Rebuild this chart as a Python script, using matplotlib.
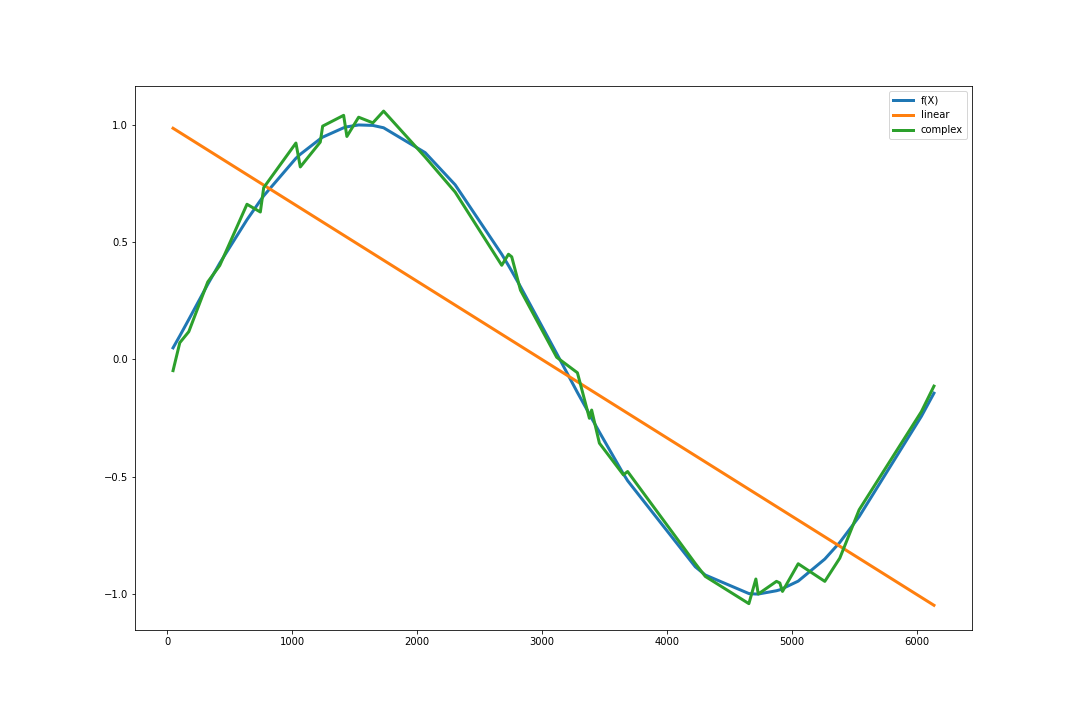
import numpy as np
import matplotlib
matplotlib.use('Agg')
import matplotlib.pyplot as plt

# sample positions (sorted X)
x_vals = [45, 99, 171, 323, 419, 637, 744, 771, 1029, 1064, 1224, 1243, 1411, 1437,
          1531, 1645, 1731, 2064, 2304, 2677, 2731, 2757, 2827, 3117, 3283, 3379,
          3397, 3459, 3651, 3685, 4227, 4307, 4656, 4712, 4731, 4877, 4904, 4925,
          5051, 5264, 5384, 5539, 6037, 6138]

# true function values
f_vals = [0.049, 0.10, 0.17, 0.32, 0.41, 0.595, 0.677, 0.697, 0.857, 0.874, 0.94,
          0.947, 0.987, 0.991, 0.999, 0.997, 0.987, 0.881, 0.744, 0.448, 0.40,
          0.376, 0.31, 0.025, -0.141, -0.233, -0.251, -0.31, -0.488, -0.517,
          -0.884, -0.919, -0.998, -1.0, -1.0, -0.986, -0.982, -0.977, -0.945,
          -0.851, -0.78, -0.67, -0.243, -0.144]

# complex model predictions
complex_vals = [-0.048, 0.071, 0.118, 0.33, 0.40, 0.661, 0.628, 0.732, 0.922, 0.82,
                0.926, 0.994, 1.04, 0.95, 1.032, 1.008, 1.058, 0.862, 0.713, 0.401,
                0.448, 0.437, 0.295, 0.009, -0.057, -0.251, -0.216, -0.357, -0.492,
                -0.478, -0.87, -0.925, -1.041, -0.936, -1.0, -0.946, -0.953, -0.989,
                -0.871, -0.946, -0.847, -0.641, -0.223, -0.114]

# linear model (straight line, endpoints)
linear_x = [45, 6138]
linear_vals = [0.985, -1.048]

fig = plt.figure(figsize=(15, 10), dpi=72)
ax = fig.add_subplot(111)
fig.subplots_adjust(left=0.125, right=0.9, top=0.88, bottom=0.125)

ax.plot(x_vals, f_vals, linewidth=3, label='f(X)')
ax.plot(linear_x, linear_vals, linewidth=3, label='linear')
ax.plot(x_vals, complex_vals, linewidth=3, label='complex')
ax.legend(loc='upper right')

fig.savefig('out.png', dpi=72)
